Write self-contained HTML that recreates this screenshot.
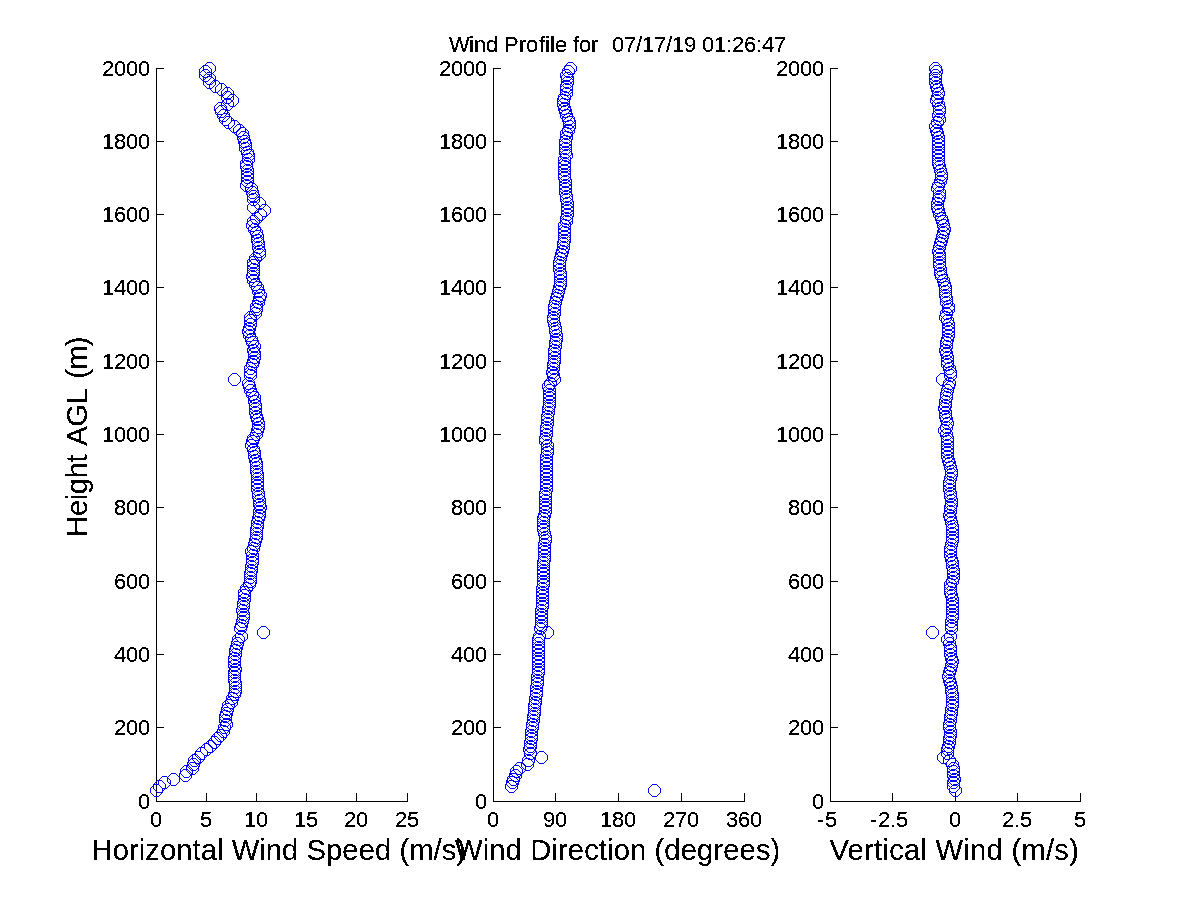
<!DOCTYPE html><html><head><meta charset="utf-8"><title>Wind Profile</title><style>html,body{margin:0;padding:0;background:#fff}svg{display:block}</style></head><body><svg width="1200" height="900" viewBox="0 0 1200 900">
<rect width="1200" height="900" fill="#fff"/>
<defs><path id="m" d="M-2,-6h5v1h-5zM-2,6h5v1h-5zM-6,-2h1v5h-1zM6,-2h1v5h-1zM-3,-5h1v1h-1zM-3,5h1v1h-1zM3,-5h1v1h-1zM3,5h1v1h-1zM-4,-4h1v1h-1zM-4,4h1v1h-1zM4,-4h1v1h-1zM4,4h1v1h-1zM-5,-3h1v1h-1zM-5,3h1v1h-1zM5,-3h1v1h-1zM5,3h1v1h-1z"/><filter id="bin" x="0" y="0" width="1200" height="900" filterUnits="userSpaceOnUse" color-interpolation-filters="sRGB"><feComponentTransfer><feFuncA type="discrete" tableValues="0 0 1 1 1"/></feComponentTransfer></filter></defs>
<g fill="#000" shape-rendering="crispEdges"><rect x="156" y="68" width="1" height="734"/><rect x="156" y="801" width="252" height="1"/><rect x="156" y="793" width="1" height="8"/><rect x="206" y="793" width="1" height="8"/><rect x="256" y="793" width="1" height="8"/><rect x="306" y="793" width="1" height="8"/><rect x="356" y="793" width="1" height="8"/><rect x="407" y="793" width="1" height="8"/><rect x="156" y="801" width="8" height="1"/><rect x="156" y="727" width="8" height="1"/><rect x="156" y="654" width="8" height="1"/><rect x="156" y="581" width="8" height="1"/><rect x="156" y="507" width="8" height="1"/><rect x="156" y="434" width="8" height="1"/><rect x="156" y="361" width="8" height="1"/><rect x="156" y="287" width="8" height="1"/><rect x="156" y="214" width="8" height="1"/><rect x="156" y="141" width="8" height="1"/><rect x="156" y="68" width="8" height="1"/><rect x="493" y="68" width="1" height="734"/><rect x="493" y="801" width="252" height="1"/><rect x="493" y="793" width="1" height="8"/><rect x="555" y="793" width="1" height="8"/><rect x="618" y="793" width="1" height="8"/><rect x="681" y="793" width="1" height="8"/><rect x="744" y="793" width="1" height="8"/><rect x="493" y="801" width="8" height="1"/><rect x="493" y="727" width="8" height="1"/><rect x="493" y="654" width="8" height="1"/><rect x="493" y="581" width="8" height="1"/><rect x="493" y="507" width="8" height="1"/><rect x="493" y="434" width="8" height="1"/><rect x="493" y="361" width="8" height="1"/><rect x="493" y="287" width="8" height="1"/><rect x="493" y="214" width="8" height="1"/><rect x="493" y="141" width="8" height="1"/><rect x="493" y="68" width="8" height="1"/><rect x="830" y="68" width="1" height="734"/><rect x="830" y="801" width="251" height="1"/><rect x="830" y="793" width="1" height="8"/><rect x="892" y="793" width="1" height="8"/><rect x="955" y="793" width="1" height="8"/><rect x="1017" y="793" width="1" height="8"/><rect x="1080" y="793" width="1" height="8"/><rect x="830" y="801" width="8" height="1"/><rect x="830" y="727" width="8" height="1"/><rect x="830" y="654" width="8" height="1"/><rect x="830" y="581" width="8" height="1"/><rect x="830" y="507" width="8" height="1"/><rect x="830" y="434" width="8" height="1"/><rect x="830" y="361" width="8" height="1"/><rect x="830" y="287" width="8" height="1"/><rect x="830" y="214" width="8" height="1"/><rect x="830" y="141" width="8" height="1"/><rect x="830" y="68" width="8" height="1"/></g>
<g fill="#00f" shape-rendering="crispEdges"><use href="#m" x="156" y="790"/><use href="#m" x="159" y="786"/><use href="#m" x="164" y="782"/><use href="#m" x="173" y="779"/><use href="#m" x="185" y="775"/><use href="#m" x="186" y="771"/><use href="#m" x="192" y="768"/><use href="#m" x="193" y="764"/><use href="#m" x="194" y="760"/><use href="#m" x="198" y="757"/><use href="#m" x="201" y="753"/><use href="#m" x="206" y="749"/><use href="#m" x="210" y="746"/><use href="#m" x="214" y="742"/><use href="#m" x="217" y="738"/><use href="#m" x="220" y="735"/><use href="#m" x="223" y="731"/><use href="#m" x="224" y="727"/><use href="#m" x="226" y="724"/><use href="#m" x="225" y="720"/><use href="#m" x="225" y="716"/><use href="#m" x="226" y="713"/><use href="#m" x="227" y="709"/><use href="#m" x="228" y="705"/><use href="#m" x="231" y="702"/><use href="#m" x="232" y="698"/><use href="#m" x="234" y="694"/><use href="#m" x="235" y="691"/><use href="#m" x="235" y="687"/><use href="#m" x="235" y="683"/><use href="#m" x="234" y="680"/><use href="#m" x="234" y="676"/><use href="#m" x="234" y="672"/><use href="#m" x="235" y="669"/><use href="#m" x="234" y="665"/><use href="#m" x="234" y="661"/><use href="#m" x="234" y="658"/><use href="#m" x="235" y="654"/><use href="#m" x="235" y="650"/><use href="#m" x="236" y="647"/><use href="#m" x="237" y="643"/><use href="#m" x="238" y="639"/><use href="#m" x="241" y="636"/><use href="#m" x="263" y="632"/><use href="#m" x="240" y="628"/><use href="#m" x="241" y="625"/><use href="#m" x="242" y="621"/><use href="#m" x="243" y="617"/><use href="#m" x="243" y="614"/><use href="#m" x="242" y="610"/><use href="#m" x="243" y="606"/><use href="#m" x="243" y="603"/><use href="#m" x="244" y="599"/><use href="#m" x="244" y="595"/><use href="#m" x="244" y="592"/><use href="#m" x="246" y="588"/><use href="#m" x="249" y="584"/><use href="#m" x="250" y="581"/><use href="#m" x="250" y="577"/><use href="#m" x="250" y="573"/><use href="#m" x="251" y="570"/><use href="#m" x="251" y="566"/><use href="#m" x="252" y="562"/><use href="#m" x="252" y="559"/><use href="#m" x="252" y="555"/><use href="#m" x="251" y="551"/><use href="#m" x="253" y="548"/><use href="#m" x="254" y="544"/><use href="#m" x="255" y="540"/><use href="#m" x="256" y="537"/><use href="#m" x="256" y="533"/><use href="#m" x="256" y="529"/><use href="#m" x="257" y="526"/><use href="#m" x="257" y="522"/><use href="#m" x="258" y="518"/><use href="#m" x="259" y="515"/><use href="#m" x="259" y="511"/><use href="#m" x="260" y="507"/><use href="#m" x="259" y="504"/><use href="#m" x="259" y="500"/><use href="#m" x="258" y="496"/><use href="#m" x="258" y="493"/><use href="#m" x="257" y="489"/><use href="#m" x="257" y="485"/><use href="#m" x="257" y="482"/><use href="#m" x="257" y="478"/><use href="#m" x="257" y="474"/><use href="#m" x="256" y="471"/><use href="#m" x="256" y="467"/><use href="#m" x="256" y="463"/><use href="#m" x="255" y="460"/><use href="#m" x="254" y="456"/><use href="#m" x="254" y="452"/><use href="#m" x="253" y="449"/><use href="#m" x="251" y="445"/><use href="#m" x="252" y="441"/><use href="#m" x="253" y="438"/><use href="#m" x="256" y="434"/><use href="#m" x="257" y="430"/><use href="#m" x="258" y="427"/><use href="#m" x="258" y="423"/><use href="#m" x="257" y="419"/><use href="#m" x="256" y="416"/><use href="#m" x="255" y="412"/><use href="#m" x="255" y="408"/><use href="#m" x="255" y="405"/><use href="#m" x="254" y="401"/><use href="#m" x="254" y="397"/><use href="#m" x="252" y="394"/><use href="#m" x="250" y="390"/><use href="#m" x="249" y="386"/><use href="#m" x="248" y="383"/><use href="#m" x="234" y="379"/><use href="#m" x="250" y="375"/><use href="#m" x="250" y="372"/><use href="#m" x="250" y="368"/><use href="#m" x="252" y="364"/><use href="#m" x="253" y="361"/><use href="#m" x="254" y="357"/><use href="#m" x="254" y="353"/><use href="#m" x="253" y="350"/><use href="#m" x="254" y="346"/><use href="#m" x="252" y="342"/><use href="#m" x="251" y="339"/><use href="#m" x="249" y="335"/><use href="#m" x="248" y="331"/><use href="#m" x="249" y="328"/><use href="#m" x="250" y="324"/><use href="#m" x="250" y="320"/><use href="#m" x="250" y="317"/><use href="#m" x="255" y="313"/><use href="#m" x="256" y="309"/><use href="#m" x="256" y="306"/><use href="#m" x="258" y="302"/><use href="#m" x="259" y="298"/><use href="#m" x="260" y="295"/><use href="#m" x="258" y="291"/><use href="#m" x="257" y="287"/><use href="#m" x="255" y="284"/><use href="#m" x="253" y="280"/><use href="#m" x="252" y="276"/><use href="#m" x="253" y="273"/><use href="#m" x="253" y="269"/><use href="#m" x="253" y="265"/><use href="#m" x="253" y="262"/><use href="#m" x="255" y="258"/><use href="#m" x="259" y="254"/><use href="#m" x="259" y="251"/><use href="#m" x="258" y="247"/><use href="#m" x="258" y="243"/><use href="#m" x="257" y="240"/><use href="#m" x="257" y="236"/><use href="#m" x="256" y="232"/><use href="#m" x="254" y="229"/><use href="#m" x="252" y="225"/><use href="#m" x="253" y="221"/><use href="#m" x="256" y="218"/><use href="#m" x="260" y="214"/><use href="#m" x="264" y="210"/><use href="#m" x="253" y="207"/><use href="#m" x="259" y="203"/><use href="#m" x="253" y="199"/><use href="#m" x="253" y="196"/><use href="#m" x="252" y="192"/><use href="#m" x="251" y="188"/><use href="#m" x="246" y="185"/><use href="#m" x="247" y="181"/><use href="#m" x="247" y="177"/><use href="#m" x="247" y="174"/><use href="#m" x="247" y="170"/><use href="#m" x="246" y="166"/><use href="#m" x="246" y="163"/><use href="#m" x="248" y="159"/><use href="#m" x="248" y="155"/><use href="#m" x="247" y="152"/><use href="#m" x="245" y="148"/><use href="#m" x="245" y="144"/><use href="#m" x="244" y="141"/><use href="#m" x="243" y="137"/><use href="#m" x="242" y="133"/><use href="#m" x="239" y="130"/><use href="#m" x="234" y="126"/><use href="#m" x="228" y="122"/><use href="#m" x="225" y="119"/><use href="#m" x="223" y="115"/><use href="#m" x="221" y="111"/><use href="#m" x="220" y="108"/><use href="#m" x="227" y="104"/><use href="#m" x="232" y="100"/><use href="#m" x="227" y="97"/><use href="#m" x="227" y="93"/><use href="#m" x="221" y="89"/><use href="#m" x="215" y="86"/><use href="#m" x="209" y="82"/><use href="#m" x="209" y="78"/><use href="#m" x="205" y="75"/><use href="#m" x="205" y="71"/><use href="#m" x="209" y="68"/></g>
<g fill="#00f" shape-rendering="crispEdges"><use href="#m" x="654" y="790"/><use href="#m" x="511" y="786"/><use href="#m" x="512" y="782"/><use href="#m" x="513" y="779"/><use href="#m" x="515" y="775"/><use href="#m" x="516" y="771"/><use href="#m" x="519" y="768"/><use href="#m" x="527" y="764"/><use href="#m" x="528" y="760"/><use href="#m" x="541" y="757"/><use href="#m" x="530" y="753"/><use href="#m" x="529" y="749"/><use href="#m" x="530" y="746"/><use href="#m" x="530" y="742"/><use href="#m" x="531" y="738"/><use href="#m" x="531" y="735"/><use href="#m" x="531" y="731"/><use href="#m" x="532" y="727"/><use href="#m" x="532" y="724"/><use href="#m" x="533" y="720"/><use href="#m" x="533" y="716"/><use href="#m" x="534" y="713"/><use href="#m" x="534" y="709"/><use href="#m" x="534" y="705"/><use href="#m" x="535" y="702"/><use href="#m" x="535" y="698"/><use href="#m" x="536" y="694"/><use href="#m" x="536" y="691"/><use href="#m" x="536" y="687"/><use href="#m" x="537" y="683"/><use href="#m" x="537" y="680"/><use href="#m" x="537" y="676"/><use href="#m" x="538" y="672"/><use href="#m" x="538" y="669"/><use href="#m" x="538" y="665"/><use href="#m" x="538" y="661"/><use href="#m" x="538" y="658"/><use href="#m" x="538" y="654"/><use href="#m" x="538" y="650"/><use href="#m" x="538" y="647"/><use href="#m" x="538" y="643"/><use href="#m" x="538" y="639"/><use href="#m" x="539" y="636"/><use href="#m" x="547" y="632"/><use href="#m" x="540" y="628"/><use href="#m" x="541" y="625"/><use href="#m" x="541" y="621"/><use href="#m" x="541" y="617"/><use href="#m" x="541" y="614"/><use href="#m" x="541" y="610"/><use href="#m" x="542" y="606"/><use href="#m" x="542" y="603"/><use href="#m" x="542" y="599"/><use href="#m" x="542" y="595"/><use href="#m" x="542" y="592"/><use href="#m" x="542" y="588"/><use href="#m" x="543" y="584"/><use href="#m" x="543" y="581"/><use href="#m" x="543" y="577"/><use href="#m" x="543" y="573"/><use href="#m" x="543" y="570"/><use href="#m" x="543" y="566"/><use href="#m" x="543" y="562"/><use href="#m" x="544" y="559"/><use href="#m" x="544" y="555"/><use href="#m" x="544" y="551"/><use href="#m" x="544" y="548"/><use href="#m" x="544" y="544"/><use href="#m" x="545" y="540"/><use href="#m" x="545" y="537"/><use href="#m" x="544" y="533"/><use href="#m" x="543" y="529"/><use href="#m" x="543" y="526"/><use href="#m" x="543" y="522"/><use href="#m" x="543" y="518"/><use href="#m" x="544" y="515"/><use href="#m" x="545" y="511"/><use href="#m" x="545" y="507"/><use href="#m" x="545" y="504"/><use href="#m" x="545" y="500"/><use href="#m" x="545" y="496"/><use href="#m" x="545" y="493"/><use href="#m" x="546" y="489"/><use href="#m" x="546" y="485"/><use href="#m" x="546" y="482"/><use href="#m" x="546" y="478"/><use href="#m" x="546" y="474"/><use href="#m" x="546" y="471"/><use href="#m" x="546" y="467"/><use href="#m" x="546" y="463"/><use href="#m" x="546" y="460"/><use href="#m" x="546" y="456"/><use href="#m" x="547" y="452"/><use href="#m" x="547" y="449"/><use href="#m" x="547" y="445"/><use href="#m" x="545" y="441"/><use href="#m" x="545" y="438"/><use href="#m" x="546" y="434"/><use href="#m" x="546" y="430"/><use href="#m" x="546" y="427"/><use href="#m" x="547" y="423"/><use href="#m" x="547" y="419"/><use href="#m" x="547" y="416"/><use href="#m" x="548" y="412"/><use href="#m" x="548" y="408"/><use href="#m" x="549" y="405"/><use href="#m" x="549" y="401"/><use href="#m" x="549" y="397"/><use href="#m" x="549" y="394"/><use href="#m" x="549" y="390"/><use href="#m" x="548" y="386"/><use href="#m" x="550" y="383"/><use href="#m" x="554" y="379"/><use href="#m" x="553" y="375"/><use href="#m" x="552" y="372"/><use href="#m" x="553" y="368"/><use href="#m" x="553" y="364"/><use href="#m" x="554" y="361"/><use href="#m" x="554" y="357"/><use href="#m" x="554" y="353"/><use href="#m" x="554" y="350"/><use href="#m" x="555" y="346"/><use href="#m" x="555" y="342"/><use href="#m" x="556" y="339"/><use href="#m" x="556" y="335"/><use href="#m" x="555" y="331"/><use href="#m" x="555" y="328"/><use href="#m" x="554" y="324"/><use href="#m" x="553" y="320"/><use href="#m" x="553" y="317"/><use href="#m" x="554" y="313"/><use href="#m" x="554" y="309"/><use href="#m" x="554" y="306"/><use href="#m" x="555" y="302"/><use href="#m" x="556" y="298"/><use href="#m" x="557" y="295"/><use href="#m" x="558" y="291"/><use href="#m" x="559" y="287"/><use href="#m" x="560" y="284"/><use href="#m" x="560" y="280"/><use href="#m" x="560" y="276"/><use href="#m" x="560" y="273"/><use href="#m" x="559" y="269"/><use href="#m" x="559" y="265"/><use href="#m" x="559" y="262"/><use href="#m" x="560" y="258"/><use href="#m" x="561" y="254"/><use href="#m" x="562" y="251"/><use href="#m" x="563" y="247"/><use href="#m" x="563" y="243"/><use href="#m" x="564" y="240"/><use href="#m" x="564" y="236"/><use href="#m" x="564" y="232"/><use href="#m" x="564" y="229"/><use href="#m" x="564" y="225"/><use href="#m" x="566" y="221"/><use href="#m" x="566" y="218"/><use href="#m" x="567" y="214"/><use href="#m" x="567" y="210"/><use href="#m" x="567" y="207"/><use href="#m" x="567" y="203"/><use href="#m" x="566" y="199"/><use href="#m" x="566" y="196"/><use href="#m" x="565" y="192"/><use href="#m" x="565" y="188"/><use href="#m" x="565" y="185"/><use href="#m" x="565" y="181"/><use href="#m" x="564" y="177"/><use href="#m" x="564" y="174"/><use href="#m" x="564" y="170"/><use href="#m" x="564" y="166"/><use href="#m" x="564" y="163"/><use href="#m" x="564" y="159"/><use href="#m" x="566" y="155"/><use href="#m" x="565" y="152"/><use href="#m" x="565" y="148"/><use href="#m" x="565" y="144"/><use href="#m" x="565" y="141"/><use href="#m" x="566" y="137"/><use href="#m" x="566" y="133"/><use href="#m" x="568" y="130"/><use href="#m" x="569" y="126"/><use href="#m" x="569" y="122"/><use href="#m" x="568" y="119"/><use href="#m" x="566" y="115"/><use href="#m" x="565" y="111"/><use href="#m" x="564" y="108"/><use href="#m" x="563" y="104"/><use href="#m" x="563" y="100"/><use href="#m" x="564" y="97"/><use href="#m" x="566" y="93"/><use href="#m" x="566" y="89"/><use href="#m" x="566" y="86"/><use href="#m" x="567" y="82"/><use href="#m" x="567" y="78"/><use href="#m" x="566" y="75"/><use href="#m" x="568" y="71"/><use href="#m" x="570" y="68"/></g>
<g fill="#00f" shape-rendering="crispEdges"><use href="#m" x="955" y="790"/><use href="#m" x="953" y="786"/><use href="#m" x="953" y="782"/><use href="#m" x="954" y="779"/><use href="#m" x="953" y="775"/><use href="#m" x="953" y="771"/><use href="#m" x="953" y="768"/><use href="#m" x="952" y="764"/><use href="#m" x="949" y="760"/><use href="#m" x="943" y="757"/><use href="#m" x="947" y="753"/><use href="#m" x="947" y="749"/><use href="#m" x="948" y="746"/><use href="#m" x="949" y="742"/><use href="#m" x="949" y="738"/><use href="#m" x="950" y="735"/><use href="#m" x="950" y="731"/><use href="#m" x="949" y="727"/><use href="#m" x="949" y="724"/><use href="#m" x="950" y="720"/><use href="#m" x="950" y="716"/><use href="#m" x="951" y="713"/><use href="#m" x="951" y="709"/><use href="#m" x="952" y="705"/><use href="#m" x="952" y="702"/><use href="#m" x="952" y="698"/><use href="#m" x="952" y="694"/><use href="#m" x="951" y="691"/><use href="#m" x="951" y="687"/><use href="#m" x="950" y="683"/><use href="#m" x="949" y="680"/><use href="#m" x="948" y="676"/><use href="#m" x="949" y="672"/><use href="#m" x="950" y="669"/><use href="#m" x="951" y="665"/><use href="#m" x="952" y="661"/><use href="#m" x="951" y="658"/><use href="#m" x="950" y="654"/><use href="#m" x="950" y="650"/><use href="#m" x="950" y="647"/><use href="#m" x="949" y="643"/><use href="#m" x="947" y="639"/><use href="#m" x="950" y="636"/><use href="#m" x="932" y="632"/><use href="#m" x="951" y="628"/><use href="#m" x="951" y="625"/><use href="#m" x="951" y="621"/><use href="#m" x="952" y="617"/><use href="#m" x="952" y="614"/><use href="#m" x="952" y="610"/><use href="#m" x="952" y="606"/><use href="#m" x="952" y="603"/><use href="#m" x="952" y="599"/><use href="#m" x="951" y="595"/><use href="#m" x="950" y="592"/><use href="#m" x="950" y="588"/><use href="#m" x="950" y="584"/><use href="#m" x="952" y="581"/><use href="#m" x="953" y="577"/><use href="#m" x="953" y="573"/><use href="#m" x="953" y="570"/><use href="#m" x="952" y="566"/><use href="#m" x="952" y="562"/><use href="#m" x="951" y="559"/><use href="#m" x="950" y="555"/><use href="#m" x="950" y="551"/><use href="#m" x="950" y="548"/><use href="#m" x="951" y="544"/><use href="#m" x="952" y="540"/><use href="#m" x="952" y="537"/><use href="#m" x="952" y="533"/><use href="#m" x="952" y="529"/><use href="#m" x="952" y="526"/><use href="#m" x="951" y="522"/><use href="#m" x="950" y="518"/><use href="#m" x="949" y="515"/><use href="#m" x="950" y="511"/><use href="#m" x="950" y="507"/><use href="#m" x="951" y="504"/><use href="#m" x="951" y="500"/><use href="#m" x="950" y="496"/><use href="#m" x="950" y="493"/><use href="#m" x="949" y="489"/><use href="#m" x="949" y="485"/><use href="#m" x="949" y="482"/><use href="#m" x="950" y="478"/><use href="#m" x="951" y="474"/><use href="#m" x="951" y="471"/><use href="#m" x="950" y="467"/><use href="#m" x="949" y="463"/><use href="#m" x="948" y="460"/><use href="#m" x="947" y="456"/><use href="#m" x="947" y="452"/><use href="#m" x="947" y="449"/><use href="#m" x="947" y="445"/><use href="#m" x="947" y="441"/><use href="#m" x="947" y="438"/><use href="#m" x="946" y="434"/><use href="#m" x="944" y="430"/><use href="#m" x="946" y="427"/><use href="#m" x="947" y="423"/><use href="#m" x="946" y="419"/><use href="#m" x="945" y="416"/><use href="#m" x="945" y="412"/><use href="#m" x="944" y="408"/><use href="#m" x="945" y="405"/><use href="#m" x="945" y="401"/><use href="#m" x="946" y="397"/><use href="#m" x="946" y="394"/><use href="#m" x="947" y="390"/><use href="#m" x="948" y="386"/><use href="#m" x="949" y="383"/><use href="#m" x="942" y="379"/><use href="#m" x="950" y="375"/><use href="#m" x="950" y="372"/><use href="#m" x="949" y="368"/><use href="#m" x="947" y="364"/><use href="#m" x="947" y="361"/><use href="#m" x="947" y="357"/><use href="#m" x="946" y="353"/><use href="#m" x="945" y="350"/><use href="#m" x="946" y="346"/><use href="#m" x="946" y="342"/><use href="#m" x="947" y="339"/><use href="#m" x="948" y="335"/><use href="#m" x="948" y="331"/><use href="#m" x="948" y="328"/><use href="#m" x="948" y="324"/><use href="#m" x="947" y="320"/><use href="#m" x="945" y="317"/><use href="#m" x="946" y="313"/><use href="#m" x="948" y="309"/><use href="#m" x="948" y="306"/><use href="#m" x="946" y="302"/><use href="#m" x="946" y="298"/><use href="#m" x="945" y="295"/><use href="#m" x="945" y="291"/><use href="#m" x="945" y="287"/><use href="#m" x="944" y="284"/><use href="#m" x="943" y="280"/><use href="#m" x="941" y="276"/><use href="#m" x="940" y="273"/><use href="#m" x="940" y="269"/><use href="#m" x="939" y="265"/><use href="#m" x="939" y="262"/><use href="#m" x="939" y="258"/><use href="#m" x="939" y="254"/><use href="#m" x="938" y="251"/><use href="#m" x="939" y="247"/><use href="#m" x="940" y="243"/><use href="#m" x="941" y="240"/><use href="#m" x="942" y="236"/><use href="#m" x="943" y="232"/><use href="#m" x="944" y="229"/><use href="#m" x="943" y="225"/><use href="#m" x="942" y="221"/><use href="#m" x="941" y="218"/><use href="#m" x="939" y="214"/><use href="#m" x="938" y="210"/><use href="#m" x="937" y="207"/><use href="#m" x="937" y="203"/><use href="#m" x="938" y="199"/><use href="#m" x="939" y="196"/><use href="#m" x="939" y="192"/><use href="#m" x="937" y="188"/><use href="#m" x="938" y="185"/><use href="#m" x="940" y="181"/><use href="#m" x="941" y="177"/><use href="#m" x="941" y="174"/><use href="#m" x="940" y="170"/><use href="#m" x="939" y="166"/><use href="#m" x="938" y="163"/><use href="#m" x="938" y="159"/><use href="#m" x="938" y="155"/><use href="#m" x="938" y="152"/><use href="#m" x="938" y="148"/><use href="#m" x="938" y="144"/><use href="#m" x="938" y="141"/><use href="#m" x="938" y="137"/><use href="#m" x="937" y="133"/><use href="#m" x="936" y="130"/><use href="#m" x="935" y="126"/><use href="#m" x="937" y="122"/><use href="#m" x="939" y="119"/><use href="#m" x="938" y="115"/><use href="#m" x="939" y="111"/><use href="#m" x="939" y="108"/><use href="#m" x="938" y="104"/><use href="#m" x="936" y="100"/><use href="#m" x="937" y="97"/><use href="#m" x="938" y="93"/><use href="#m" x="937" y="89"/><use href="#m" x="936" y="86"/><use href="#m" x="935" y="82"/><use href="#m" x="935" y="78"/><use href="#m" x="935" y="75"/><use href="#m" x="936" y="71"/><use href="#m" x="935" y="68"/></g>
<g font-family="'Liberation Sans', sans-serif" font-size="22px" fill="#000" filter="url(#bin)"><text x="150" y="827">0</text><text x="200" y="827">5</text><text x="244 256" y="827">10</text><text x="294 306" y="827">15</text><text x="344 356" y="827">20</text><text x="395 407" y="827">25</text><text x="138" y="809">0</text><text x="114 126 138" y="735">200</text><text x="114 126 138" y="662">400</text><text x="114 126 138" y="589">600</text><text x="114 126 138" y="515">800</text><text x="102 114 126 138" y="442">1000</text><text x="102 114 126 138" y="369">1200</text><text x="102 114 126 138" y="295">1400</text><text x="102 114 126 138" y="222">1600</text><text x="102 114 126 138" y="149">1800</text><text x="102 114 126 138" y="76">2000</text><text x="487" y="827">0</text><text x="543 555" y="827">90</text><text x="600 612 624" y="827">180</text><text x="663 675 687" y="827">270</text><text x="726 738 750" y="827">360</text><text x="475" y="809">0</text><text x="451 463 475" y="735">200</text><text x="451 463 475" y="662">400</text><text x="451 463 475" y="589">600</text><text x="451 463 475" y="515">800</text><text x="439 451 463 475" y="442">1000</text><text x="439 451 463 475" y="369">1200</text><text x="439 451 463 475" y="295">1400</text><text x="439 451 463 475" y="222">1600</text><text x="439 451 463 475" y="149">1800</text><text x="439 451 463 475" y="76">2000</text><text x="817 825" y="827">-5</text><text x="870 878 890 896" y="827">-2.5</text><text x="949" y="827">0</text><text x="1002 1014 1020" y="827">2.5</text><text x="1074" y="827">5</text><text x="812" y="809">0</text><text x="788 800 812" y="735">200</text><text x="788 800 812" y="662">400</text><text x="788 800 812" y="589">600</text><text x="788 800 812" y="515">800</text><text x="776 788 800 812" y="442">1000</text><text x="776 788 800 812" y="369">1200</text><text x="776 788 800 812" y="295">1400</text><text x="776 788 800 812" y="222">1600</text><text x="776 788 800 812" y="149">1800</text><text x="776 788 800 812" y="76">2000</text></g>
<g font-family="'Liberation Sans', sans-serif" fill="#000" filter="url(#bin)"><text x="449 469 474 486 498 504 519 526 539 545 550 555 567 573 579 591" y="52" font-size="22px" xml:space="preserve">Wind Profile for</text><text x="612 624 636 642 654 666 672 684 696 702 714 726 732 744 756 762 774" y="52" font-size="22px" xml:space="preserve">07/17/19 01:26:47</text><text x="91.5" y="860" font-size="29.2px" textLength="374.59">Horizontal Wind Speed (m/s)</text><text x="455" y="860" font-size="29.2px" textLength="325.31">Wind Direction (degrees)</text><text x="829.5" y="860" font-size="29.2px" textLength="249.39">Vertical Wind (m/s)</text><g transform="translate(87,834.7) rotate(-90)" font-size="29.2px"><text x="298" textLength="82.38">Height</text><text x="389" textLength="57.41">AGL</text><text x="456" textLength="42.27">(m)</text></g></g>
</svg></body></html>
